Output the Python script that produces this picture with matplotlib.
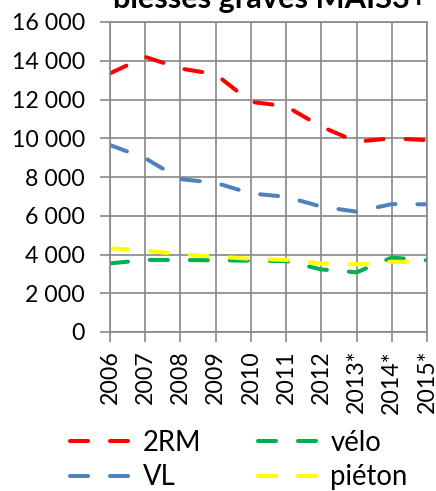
import matplotlib
matplotlib.use("Agg")
import matplotlib.pyplot as plt
from matplotlib.ticker import FuncFormatter, MultipleLocator

plt.rcParams['font.family'] = ['Lato', 'DejaVu Sans']
plt.rcParams['lines.scale_dashes'] = False

years = ["2006", "2007", "2008", "2009", "2010", "2011", "2012", "2013*", "2014*", "2015*"]
rm2 = [13350, 14200, 13600, 13300, 11880, 11650, 10600, 9820, 10000, 9900]
vl = [9650, 8970, 7890, 7700, 7150, 6980, 6470, 6210, 6600, 6590]
velo = [3540, 3720, 3720, 3700, 3680, 3660, 3230, 3080, 3840, 3700]
pieton = [4320, 4200, 4010, 3890, 3780, 3720, 3540, 3490, 3630, 3600]

series = [("2RM", rm2, "#ff0000"), ("VL", vl, "#4f81bd"),
          ("vélo", velo, "#00b050"), ("piéton", pieton, "#ffff00")]

W, H = 436, 491
fig = plt.figure(figsize=(W / 100, H / 100), dpi=100)
renderer = fig.canvas.get_renderer()


def fit(s, target_px, **kw):
    t = fig.text(0, 0, s, fontsize=10, **kw)
    w = t.get_window_extent(renderer).width
    t.remove()
    return 10 * target_px / w


fs = fit("16 000", 73)
fs_leg = fit("piéton", 78)
fs_title = fit("blessés graves MAIS3+", 316, fontweight='bold')

ax = fig.add_axes([110 / W, 1 - 332 / H, (427 - 110) / W, (332 - 22) / H])

x = list(range(len(years)))
lines = {}
for name, vals, col in series:
    ln, = ax.plot(x, vals, color=col, lw=2.9, linestyle=(0, (13, 15.8)),
                  solid_capstyle='round', dash_capstyle='round', label=name)
    lines[name] = ln

ax.set_xlim(0, len(years) - 1)
ax.set_ylim(0, 16000)
ax.yaxis.set_major_locator(MultipleLocator(2000))
ax.yaxis.set_major_formatter(FuncFormatter(lambda v, p: f"{int(v):,}".replace(",", " ")))
ax.set_xticks(x)
ax.set_xticklabels(years, rotation=90, fontsize=fs)
ax.tick_params(axis='y', labelsize=fs, length=7, color='#888888', width=1.2, pad=11)
ax.tick_params(axis='x', length=7, color='#888888', width=1.2, pad=6)
ax.grid(True, color='#888888', lw=1.2)
ax.set_axisbelow(True)
for s in ax.spines.values():
    s.set_color('#888888')
    s.set_linewidth(1.2)

fig.text(270 / W, 1 - 8 / H, "blessés graves MAIS3+", ha='center', va='baseline',
         fontsize=fs_title, fontweight='bold')

fpx = fs_leg * 100 / 72
handles = [lines["2RM"], lines["VL"], lines["vélo"], lines["piéton"]]
labels = ["2RM", "VL", "vélo", "piéton"]
fig.legend(handles, labels, ncol=2, loc='upper left',
           bbox_to_anchor=(70 / W, 1 - 430 / H), borderaxespad=0, borderpad=0,
           frameon=False, fontsize=fs_leg, handlelength=63 / fpx,
           columnspacing=56 / fpx, handletextpad=10 / fpx, labelspacing=0.3)

fig.savefig("out.png", dpi=100)
